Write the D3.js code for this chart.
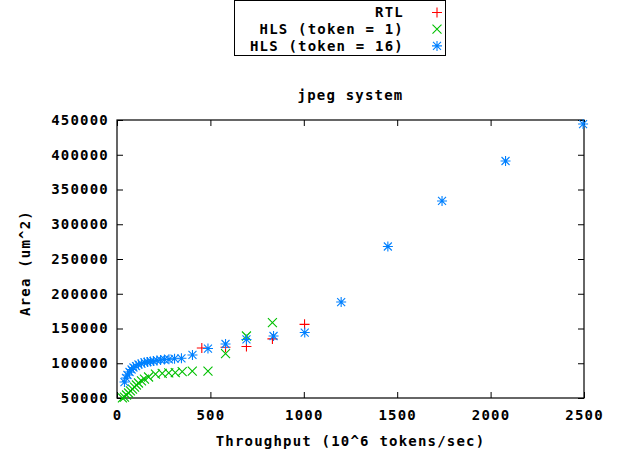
<!DOCTYPE html>
<html>
<head>
<meta charset="utf-8">
<script src="https://cdn.jsdelivr.net/npm/d3@7"></script>
<style>
  body { margin: 0; background: #fff; }
  text { font-family: "DejaVu Sans Mono", monospace; font-weight: bold; font-size: 14px; letter-spacing: 1.2px; fill: #000; }
</style>
</head>
<body>
<svg id="chart"></svg>
<script>
// RTL
const rtlX = [454, 581, 693, 832, 1004];
const rtlY = [122000, 123000, 124000, 135000, 156000];

// HLS (token = 1)
const hls1X = [29, 40, 51, 62, 72, 83, 94, 104, 115, 131, 147, 169, 206, 242, 277, 312, 349, 403, 487, 581, 693, 832];
const hls1Y = [50200, 51400, 54300, 57200, 60100, 62900, 65800, 68700, 71600, 74500, 77300, 80200, 84500, 85500, 86000, 86400, 87900, 88800, 88800, 114000, 139200, 158600];

// HLS (token = 16)
const hls16X = [40, 48, 56, 67, 78, 88, 102, 115, 131, 147, 163, 179, 195, 214, 233, 254, 278, 308, 345, 404, 487, 581, 693, 838, 1005, 1200, 1450, 1740, 2080, 2495];
const hls16Y = [73000, 78800, 83100, 87400, 91000, 93900, 96000, 98200, 99600, 101100, 101800, 102500, 103200, 104000, 104700, 105400, 105700, 106500, 107100, 111900, 121200, 127700, 134200, 139200, 144200, 188100, 268000, 333500, 391000, 444200];

const xTicks = [0, 500, 1000, 1500, 2000, 2500];
const yTicks = [50000, 100000, 150000, 200000, 250000, 300000, 350000, 400000, 450000];

const series = [
  { name: 'RTL', xs: rtlX, ys: rtlY, color: '#ff0000', marker: 'plus' },
  { name: 'HLS (token = 1)', xs: hls1X, ys: hls1Y, color: '#00c000', marker: 'cross' },
  { name: 'HLS (token = 16)', xs: hls16X, ys: hls16Y, color: '#0080ff', marker: 'star' }
];

const width = 634, height = 455;
const plotLeft = 117, plotRight = 584, plotTop = 120, plotBottom = 398;

const markers = {
  plus: 'M-5,0H5M0,-5V5',
  cross: 'M-4.5,-4.5L4.5,4.5M-4.5,4.5L4.5,-4.5',
  star: 'M-5,0H5M0,-5V5M-4,-4L4,4M-4,4L4,-4'
};

const svg = d3.select('#chart').attr('width', width).attr('height', height);

const x = d3.scaleLinear().domain([0, 2500]).range([plotLeft, plotRight]);
const y = d3.scaleLinear().domain([50000, 450000]).range([plotBottom, plotTop]);

// Frame and ticks (mirrored on all sides, pointing inwards)
svg.append('g')
  .attr('transform', `translate(0,${plotBottom})`)
  .call(d3.axisBottom(x).tickValues(xTicks).tickSize(-6).tickPadding(12).tickFormat(d3.format('d')))
  .call(g => g.select('.domain').remove());
svg.append('g')
  .attr('transform', `translate(0,${plotTop})`)
  .call(d3.axisTop(x).tickValues(xTicks).tickSize(-6).tickFormat(''))
  .call(g => g.select('.domain').remove());
svg.append('g')
  .attr('transform', `translate(${plotLeft},0)`)
  .call(d3.axisLeft(y).tickValues(yTicks).tickSize(-6).tickPadding(8).tickFormat(d3.format('d')))
  .call(g => g.select('.domain').remove());
svg.append('g')
  .attr('transform', `translate(${plotRight},0)`)
  .call(d3.axisRight(y).tickValues(yTicks).tickSize(-6).tickFormat(''))
  .call(g => g.select('.domain').remove());

svg.selectAll('.tick line').attr('stroke', '#000').attr('stroke-width', 1);
svg.selectAll('.tick text')
  .style('font-family', '"DejaVu Sans Mono", monospace')
  .style('font-weight', 'bold')
  .style('font-size', '14px')
  .attr('fill', '#000');

svg.append('rect')
  .attr('x', plotLeft).attr('y', plotTop)
  .attr('width', plotRight - plotLeft).attr('height', plotBottom - plotTop)
  .attr('fill', 'none').attr('stroke', '#000').attr('stroke-width', 1.2);

// Points
series.forEach(s => {
  svg.append('g').selectAll('path')
    .data(s.xs.map((v, i) => [v, s.ys[i]]))
    .join('path')
    .attr('transform', d => `translate(${x(d[0])},${y(d[1])})`)
    .attr('d', markers[s.marker])
    .attr('fill', 'none')
    .attr('stroke', s.color)
    .attr('stroke-width', 1.1);
});

// Title and axis labels
svg.append('text')
  .attr('x', (plotLeft + plotRight) / 2).attr('y', 95)
  .attr('dy', '0.35em').attr('text-anchor', 'middle')
  .text('jpeg system');
svg.append('text')
  .attr('x', (plotLeft + plotRight) / 2).attr('y', 441)
  .attr('dy', '0.35em').attr('text-anchor', 'middle')
  .text('Throughput (10^6 tokens/sec)');
svg.append('text')
  .attr('transform', `translate(25,${(plotTop + plotBottom) / 2 + 4}) rotate(-90)`)
  .attr('dy', '0.35em').attr('text-anchor', 'middle')
  .text('Area (um^2)');

// Legend
svg.append('rect')
  .attr('x', 234.5).attr('y', 0.5).attr('width', 211).attr('height', 55)
  .attr('fill', 'none').attr('stroke', '#000').attr('stroke-width', 1);

const legend = svg.append('g').selectAll('g')
  .data(series)
  .join('g')
  .attr('transform', (d, i) => `translate(0,${12.5 + i * 16.7})`);
legend.append('text')
  .attr('x', 404).attr('dy', '0.35em').attr('text-anchor', 'end')
  .text(d => d.name);
legend.append('path')
  .attr('transform', 'translate(437,0)')
  .attr('d', d => markers[d.marker])
  .attr('fill', 'none')
  .attr('stroke', d => d.color)
  .attr('stroke-width', 1.1);
</script>
</body>
</html>
